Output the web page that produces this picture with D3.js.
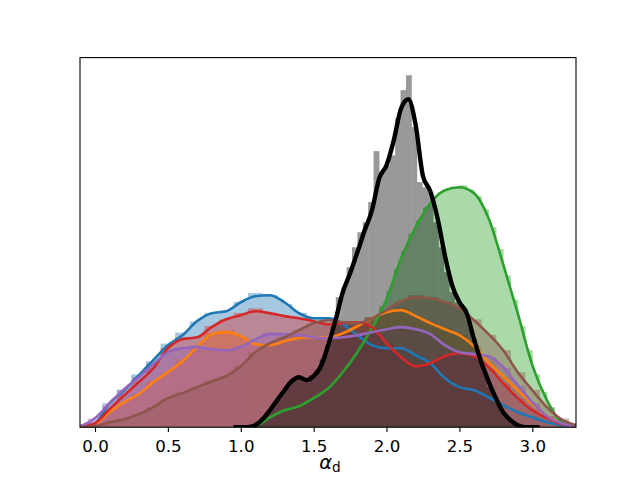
<!DOCTYPE html>
<html>
<head>
<meta charset="utf-8">
<script src="https://cdn.jsdelivr.net/npm/d3@7"></script>
<style>
body { margin: 0; background: #fff; }
text { font-family: "DejaVu Sans", sans-serif; }
</style>
</head>
<body>
<svg width="640" height="480"></svg>
<script>
// kde grid shared by the coloured series
var kdeGrid = [-0.1,0.0,0.1,0.2,0.3,0.4,0.5,0.6,0.7,0.8,0.9,1.0,1.1,1.2,1.3,1.4,1.5,1.6,1.7,1.8,1.9,2.0,2.1,2.2,2.3,2.4,2.5,2.6,2.7,2.8,2.9,3.0,3.1,3.2,3.3];

var blueKde   = [0,0.018,0.109,0.168,0.236,0.305,0.373,0.418,0.482,0.518,0.527,0.568,0.595,0.600,0.568,0.518,0.495,0.495,0.468,0.418,0.373,0.359,0.359,0.327,0.291,0.223,0.182,0.168,0.136,0.100,0.068,0.045,0.023,0.009,0];
var orangeKde = [0,0.014,0.068,0.114,0.150,0.205,0.250,0.300,0.364,0.423,0.432,0.414,0.377,0.373,0.391,0.405,0.409,0.409,0.427,0.459,0.495,0.523,0.532,0.505,0.473,0.445,0.418,0.368,0.295,0.232,0.168,0.105,0.050,0.018,0];
var greenKde  = [null,null,null,null,null,null,null,null,null,null,null,0,0.005,0.045,0.077,0.095,0.132,0.177,0.250,0.341,0.450,0.582,0.768,0.909,1.018,1.077,1.091,1.064,0.950,0.741,0.518,0.282,0.123,0.023,0];
var redKde    = [0,0.018,0.082,0.145,0.205,0.268,0.359,0.400,0.409,0.455,0.491,0.509,0.527,0.518,0.505,0.495,0.482,0.468,0.473,0.477,0.455,0.382,0.318,0.277,0.291,0.323,0.336,0.323,0.273,0.200,0.132,0.077,0.041,0.014,0];
var purpleKde = [0.005,0.041,0.109,0.173,0.227,0.286,0.341,0.359,0.364,0.355,0.350,0.364,0.400,0.423,0.423,0.418,0.409,0.405,0.409,0.418,0.432,0.445,0.455,0.445,0.423,0.373,0.341,0.332,0.323,0.273,0.191,0.114,0.050,0.018,0];
var brownKde  = [0,0.005,0.023,0.036,0.059,0.091,0.132,0.155,0.182,0.209,0.232,0.277,0.341,0.382,0.409,0.441,0.473,0.486,0.477,0.473,0.495,0.532,0.573,0.591,0.586,0.568,0.541,0.486,0.423,0.350,0.250,0.168,0.091,0.036,0.009];

// black kde is narrower, finer grid
var blackGrid = [0.95,1.00,1.05,1.10,1.15,1.20,1.25,1.30,1.35,1.40,1.45,1.50,1.55,1.60,1.65,1.70,1.75,1.80,1.85,1.90,1.95,2.00,2.05,2.10,2.15,2.20,2.25,2.30,2.35,2.40,2.45,2.50,2.55,2.60,2.65,2.70,2.75,2.80,2.85,2.90,2.95,3.00,3.05];
var blackKde  = [0,0,0,0.009,0.036,0.077,0.123,0.168,0.209,0.227,0.214,0.232,0.277,0.373,0.486,0.614,0.700,0.795,0.895,0.986,1.132,1.191,1.305,1.450,1.491,1.373,1.141,1.073,0.950,0.782,0.645,0.568,0.518,0.400,0.295,0.209,0.132,0.068,0.032,0.009,0,0,0];

// histograms (bin heights, density)
var blueHist   = [0.02,0.10,0.17,0.24,0.30,0.38,0.43,0.48,0.52,0.53,0.57,0.61,0.60,0.56,0.52,0.50,0.50,0.46,0.42,0.37,0.36,0.35,0.33,0.29,0.22,0.18,0.17,0.14,0.10,0.07,0.05,0.02,0.01];
var orangeHist = [0.01,0.07,0.11,0.15,0.21,0.25,0.31,0.37,0.43,0.44,0.41,0.37,0.37,0.39,0.40,0.41,0.41,0.43,0.46,0.50,0.53,0.54,0.50,0.47,0.45,0.42,0.37,0.30,0.23,0.17,0.10,0.05,0.02];
var redHist    = [0.02,0.08,0.15,0.21,0.27,0.36,0.41,0.41,0.46,0.49,0.52,0.54,0.52,0.50,0.49,0.48,0.47,0.48,0.48,0.45,0.38,0.31,0.27,0.29,0.33,0.34,0.32,0.27,0.20,0.13,0.08,0.04,0.01];
var purpleHist = [0.04,0.11,0.17,0.23,0.29,0.34,0.36,0.37,0.35,0.35,0.37,0.40,0.43,0.42,0.42,0.41,0.40,0.41,0.42,0.43,0.45,0.46,0.44,0.42,0.37,0.34,0.33,0.32,0.27,0.19,0.11,0.05,0.02];
var brownHist  = [0.005,0.02,0.04,0.06,0.09,0.13,0.16,0.18,0.21,0.23,0.28,0.34,0.38,0.41,0.44,0.47,0.49,0.48,0.47,0.50,0.53,0.57,0.60,0.59,0.57,0.54,0.49,0.42,0.35,0.25,0.17,0.09,0.04];
var greenHist  = [0.005,0.01,0.03,0.055,0.07,0.085,0.09,0.10,0.12,0.14,0.16,0.19,0.23,0.27,0.32,0.37,0.42,0.48,0.55,0.62,0.72,0.80,0.88,0.94,1.00,1.04,1.07,1.08,1.09,1.10,1.08,1.05,0.99,0.91,0.81,0.69,0.58,0.46,0.35,0.24,0.16,0.09,0.04,0.014];
var greyHist   = [0,0.009,0.014,0.023,0.045,0.068,0.100,0.127,0.168,0.205,0.218,0.227,0.205,0.236,0.259,0.309,0.373,0.455,0.591,0.636,0.727,0.818,0.886,0.932,1.023,1.255,1.159,1.191,1.236,1.405,1.532,1.600,1.364,1.114,1.091,1.068,0.932,0.818,0.705,0.614,0.568,0.532,0.486,0.400,0.327,0.250,0.182,0.127,0.082,0.045,0.023,0.009];

var tickValues = [0.0,0.5,1.0,1.5,2.0,2.5,3.0];

var series = [
  {color: "#1f77b4", kx: kdeGrid, kde: blueKde,   hist: blueHist,   start: -0.05, bw: 0.1,   lw: 2.6, shade: true},
  {color: "#ff7f0e", kx: kdeGrid, kde: orangeKde, hist: orangeHist, start: -0.05, bw: 0.1,   lw: 2.6, shade: true},
  {color: "#2ca02c", kx: kdeGrid, kde: greenKde,  hist: greenHist,  start: 1.05,  bw: 0.05,  lw: 2.6, shade: true},
  {color: "#d62728", kx: kdeGrid, kde: redKde,    hist: redHist,    start: -0.05, bw: 0.1,   lw: 2.6, shade: true},
  {color: "#9467bd", kx: kdeGrid, kde: purpleKde, hist: purpleHist, start: -0.05, bw: 0.1,   lw: 2.6, shade: true},
  {color: "#8c564b", kx: kdeGrid, kde: brownKde,  hist: brownHist,  start: -0.05, bw: 0.1,   lw: 2.6, shade: true},
  {color: "#000000", kx: blackGrid, kde: blackKde, hist: greyHist,  start: 0.986, bw: 0.037, lw: 4.4, shade: false}
];

var svg = d3.select("svg");
var margin = {left: 80, top: 57.6, right: 64, bottom: 52.8};
var width = 640 - margin.left - margin.right;
var height = 480 - margin.top - margin.bottom;

var allVals = [];
series.forEach(function(s) {
  s.hist.forEach(function(v) { allVals.push(v); });
  s.kde.forEach(function(v) { if (v != null) allVals.push(v); });
});

var xScale = d3.scaleLinear().domain([-0.1029, 3.2997]).range([0, width]);
var yScale = d3.scaleLinear().domain([0, d3.max(allVals) * 1.05]).range([height, 0]);

var g = svg.append("g").attr("transform", "translate(" + margin.left + "," + margin.top + ")");

g.append("clipPath").attr("id", "clip")
  .append("rect").attr("width", width).attr("height", height);

var plot = g.append("g").attr("clip-path", "url(#clip)");

function points(s) {
  return s.kx.map(function(x, i) { return [x, s.kde[i]]; });
}

var area = d3.area()
  .defined(function(d) { return d[1] != null; })
  .x(function(d) { return xScale(d[0]); })
  .y0(height)
  .y1(function(d) { return yScale(d[1]); })
  .curve(d3.curveMonotoneX);

var line = d3.line()
  .defined(function(d) { return d[1] != null; })
  .x(function(d) { return xScale(d[0]); })
  .y(function(d) { return yScale(d[1]); })
  .curve(d3.curveMonotoneX);

// histogram + shaded kde, union drawn at alpha .4
series.forEach(function(s) {
  var layer = plot.append("g").attr("opacity", 0.4).attr("fill", s.color);
  var bwPx = xScale(s.start + s.bw) - xScale(s.start);
  layer.selectAll("rect")
    .data(s.hist)
    .enter()
    .append("rect")
    .attr("x", function(d, i) { return xScale(s.start + i * s.bw); })
    .attr("width", bwPx + 0.5)
    .attr("y", function(d) { return yScale(d); })
    .attr("height", function(d) { return height - yScale(d); });
  if (s.shade) {
    layer.append("path").datum(points(s)).attr("d", area);
  }
});

series.forEach(function(s) {
  plot.append("path")
    .datum(points(s))
    .attr("fill", "none")
    .attr("stroke", s.color)
    .attr("stroke-width", s.lw)
    .attr("stroke-linejoin", "round")
    .attr("d", line);
});

var xAxis = g.append("g")
  .attr("transform", "translate(0," + height + ")")
  .call(d3.axisBottom(xScale).tickValues(tickValues).tickFormat(d3.format(".1f")).tickSize(4.86).tickPadding(8.6));
xAxis.select(".domain").remove();
xAxis.selectAll("line").attr("stroke", "#000").attr("stroke-width", 1.1);
xAxis.selectAll("text").attr("fill", "#000").style("font-size", "16.67px").style("font-family", "DejaVu Sans");

g.append("rect")
  .attr("width", width)
  .attr("height", height)
  .attr("fill", "none")
  .attr("stroke", "#000")
  .attr("stroke-width", 1.1);

var label = g.append("text")
  .attr("x", width / 2 + 2)
  .attr("y", 411)
  .attr("text-anchor", "middle")
  .style("font-size", "19.4px");
label.append("tspan").style("font-style", "italic").text("α");
label.append("tspan").attr("dy", 3.5).style("font-size", "13.6px").text("d");
</script>
</body>
</html>
